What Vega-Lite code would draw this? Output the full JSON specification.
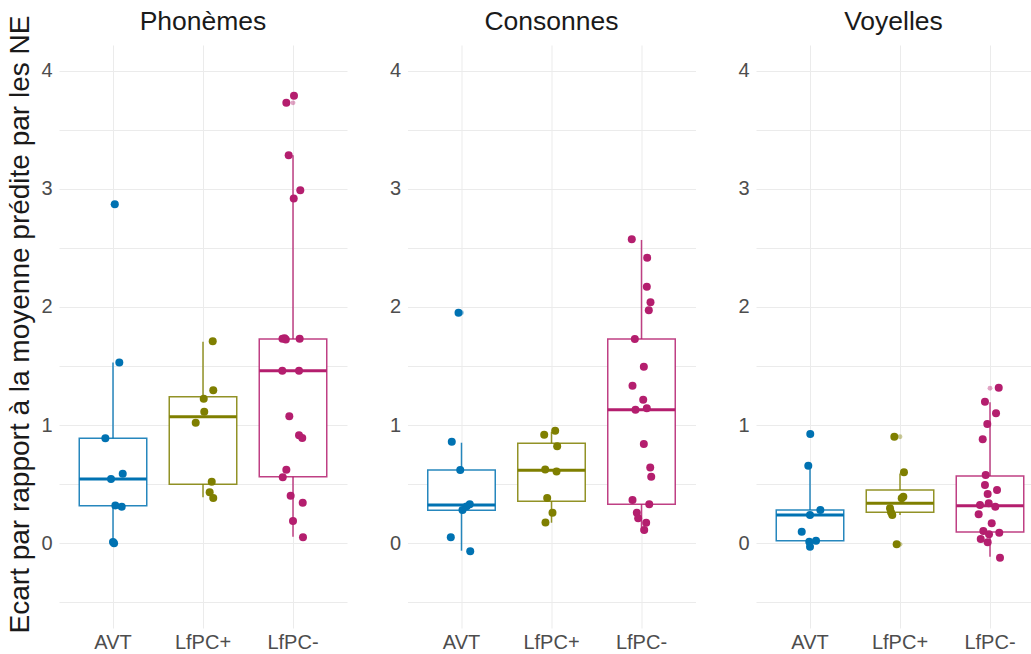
{
  "$schema": "https://vega.github.io/schema/vega-lite/v6.json",
  "padding": {"top": 8, "left": 6, "right": 0, "bottom": 0},
  "background": "white",
  "spacing": 60.5,
  "bounds": "flush",
  "config": {
    "view": {"stroke": null},
    "font": "Liberation Sans",
    "axis": {"grid": true, "gridColor": "#EBEBEB", "gridWidth": 1, "domain": false, "ticks": false, "labelFont": "Liberation Sans", "labelFontSize": 20, "labelColor": "#4D4D4D", "titleFont": "Liberation Sans", "titleFontSize": 28, "titleFontWeight": "normal", "titleColor": "#1A1A1A"},
    "title": {"font": "Liberation Sans", "fontSize": 26.5, "fontWeight": "normal", "color": "#1A1A1A", "offset": 10, "anchor": "middle"}
  },
  "resolve": {"scale": {"x": "independent", "xOffset": "independent"}},
  "datasets": {
    "points": [
      {"panel": "Phonèmes", "group": "AVT", "value": 2.87, "jit": 0.02},
      {"panel": "Phonèmes", "group": "AVT", "value": 1.53, "jit": 0.07},
      {"panel": "Phonèmes", "group": "AVT", "value": 0.887, "jit": -0.085},
      {"panel": "Phonèmes", "group": "AVT", "value": 0.587, "jit": 0.108},
      {"panel": "Phonèmes", "group": "AVT", "value": 0.542, "jit": -0.022},
      {"panel": "Phonèmes", "group": "AVT", "value": 0.319, "jit": 0.026},
      {"panel": "Phonèmes", "group": "AVT", "value": 0.308, "jit": 0.097},
      {"panel": "Phonèmes", "group": "AVT", "value": 0.008, "jit": 0.0},
      {"panel": "Phonèmes", "group": "AVT", "value": -0.002, "jit": 0.012},
      {"panel": "Phonèmes", "group": "LfPC+", "value": 1.709, "jit": 0.108},
      {"panel": "Phonèmes", "group": "LfPC+", "value": 1.294, "jit": 0.114},
      {"panel": "Phonèmes", "group": "LfPC+", "value": 1.223, "jit": 0.008},
      {"panel": "Phonèmes", "group": "LfPC+", "value": 1.113, "jit": 0.014},
      {"panel": "Phonèmes", "group": "LfPC+", "value": 1.02, "jit": -0.081},
      {"panel": "Phonèmes", "group": "LfPC+", "value": 0.52, "jit": 0.097},
      {"panel": "Phonèmes", "group": "LfPC+", "value": 0.43, "jit": 0.074},
      {"panel": "Phonèmes", "group": "LfPC+", "value": 0.381, "jit": 0.114},
      {"panel": "Phonèmes", "group": "LfPC-", "value": 3.79, "jit": 0.011},
      {"panel": "Phonèmes", "group": "LfPC-", "value": 3.73, "jit": -0.074},
      {"panel": "Phonèmes", "group": "LfPC-", "value": 3.285, "jit": -0.048},
      {"panel": "Phonèmes", "group": "LfPC-", "value": 2.99, "jit": 0.081},
      {"panel": "Phonèmes", "group": "LfPC-", "value": 2.92, "jit": 0.008},
      {"panel": "Phonèmes", "group": "LfPC-", "value": 1.73, "jit": -0.117},
      {"panel": "Phonèmes", "group": "LfPC-", "value": 1.735, "jit": -0.094},
      {"panel": "Phonèmes", "group": "LfPC-", "value": 1.725, "jit": -0.08},
      {"panel": "Phonèmes", "group": "LfPC-", "value": 1.73, "jit": 0.074},
      {"panel": "Phonèmes", "group": "LfPC-", "value": 1.46, "jit": -0.119},
      {"panel": "Phonèmes", "group": "LfPC-", "value": 1.46, "jit": 0.067},
      {"panel": "Phonèmes", "group": "LfPC-", "value": 1.074, "jit": -0.041},
      {"panel": "Phonèmes", "group": "LfPC-", "value": 0.913, "jit": 0.067},
      {"panel": "Phonèmes", "group": "LfPC-", "value": 0.89, "jit": 0.103},
      {"panel": "Phonèmes", "group": "LfPC-", "value": 0.621, "jit": -0.074},
      {"panel": "Phonèmes", "group": "LfPC-", "value": 0.557, "jit": -0.114},
      {"panel": "Phonèmes", "group": "LfPC-", "value": 0.401, "jit": -0.026},
      {"panel": "Phonèmes", "group": "LfPC-", "value": 0.342, "jit": 0.108},
      {"panel": "Phonèmes", "group": "LfPC-", "value": 0.186, "jit": 0.0},
      {"panel": "Phonèmes", "group": "LfPC-", "value": 0.048, "jit": 0.111},
      {"panel": "Consonnes", "group": "AVT", "value": 1.952, "jit": -0.033},
      {"panel": "Consonnes", "group": "AVT", "value": 0.859, "jit": -0.108},
      {"panel": "Consonnes", "group": "AVT", "value": 0.619, "jit": -0.014},
      {"panel": "Consonnes", "group": "AVT", "value": 0.328, "jit": 0.092},
      {"panel": "Consonnes", "group": "AVT", "value": 0.31, "jit": 0.056},
      {"panel": "Consonnes", "group": "AVT", "value": 0.28, "jit": 0.011},
      {"panel": "Consonnes", "group": "AVT", "value": 0.048, "jit": -0.119},
      {"panel": "Consonnes", "group": "AVT", "value": -0.07, "jit": 0.097},
      {"panel": "Consonnes", "group": "LfPC+", "value": 0.918, "jit": -0.081},
      {"panel": "Consonnes", "group": "LfPC+", "value": 0.952, "jit": 0.041},
      {"panel": "Consonnes", "group": "LfPC+", "value": 0.819, "jit": 0.063},
      {"panel": "Consonnes", "group": "LfPC+", "value": 0.624, "jit": -0.07},
      {"panel": "Consonnes", "group": "LfPC+", "value": 0.607, "jit": 0.056},
      {"panel": "Consonnes", "group": "LfPC+", "value": 0.381, "jit": -0.048},
      {"panel": "Consonnes", "group": "LfPC+", "value": 0.257, "jit": 0.011},
      {"panel": "Consonnes", "group": "LfPC+", "value": 0.175, "jit": -0.067},
      {"panel": "Consonnes", "group": "LfPC-", "value": 2.574, "jit": -0.108},
      {"panel": "Consonnes", "group": "LfPC-", "value": 2.418, "jit": 0.063},
      {"panel": "Consonnes", "group": "LfPC-", "value": 2.172, "jit": 0.059},
      {"panel": "Consonnes", "group": "LfPC-", "value": 2.04, "jit": 0.1},
      {"panel": "Consonnes", "group": "LfPC-", "value": 1.972, "jit": 0.081},
      {"panel": "Consonnes", "group": "LfPC-", "value": 1.729, "jit": -0.074},
      {"panel": "Consonnes", "group": "LfPC-", "value": 1.494, "jit": 0.026},
      {"panel": "Consonnes", "group": "LfPC-", "value": 1.333, "jit": -0.1},
      {"panel": "Consonnes", "group": "LfPC-", "value": 1.215, "jit": 0.019},
      {"panel": "Consonnes", "group": "LfPC-", "value": 1.13, "jit": -0.067},
      {"panel": "Consonnes", "group": "LfPC-", "value": 1.141, "jit": 0.059},
      {"panel": "Consonnes", "group": "LfPC-", "value": 0.839, "jit": 0.026},
      {"panel": "Consonnes", "group": "LfPC-", "value": 0.641, "jit": 0.097},
      {"panel": "Consonnes", "group": "LfPC-", "value": 0.562, "jit": 0.108},
      {"panel": "Consonnes", "group": "LfPC-", "value": 0.364, "jit": -0.1},
      {"panel": "Consonnes", "group": "LfPC-", "value": 0.328, "jit": 0.086},
      {"panel": "Consonnes", "group": "LfPC-", "value": 0.257, "jit": -0.052},
      {"panel": "Consonnes", "group": "LfPC-", "value": 0.209, "jit": -0.037},
      {"panel": "Consonnes", "group": "LfPC-", "value": 0.172, "jit": 0.052},
      {"panel": "Consonnes", "group": "LfPC-", "value": 0.11, "jit": 0.03},
      {"panel": "Voyelles", "group": "AVT", "value": 0.924, "jit": 0.003},
      {"panel": "Voyelles", "group": "AVT", "value": 0.655, "jit": -0.019},
      {"panel": "Voyelles", "group": "AVT", "value": 0.28, "jit": 0.115},
      {"panel": "Voyelles", "group": "AVT", "value": 0.237, "jit": 0.0},
      {"panel": "Voyelles", "group": "AVT", "value": 0.096, "jit": -0.092},
      {"panel": "Voyelles", "group": "AVT", "value": 0.02, "jit": 0.067},
      {"panel": "Voyelles", "group": "AVT", "value": 0.01, "jit": -0.008},
      {"panel": "Voyelles", "group": "AVT", "value": -0.031, "jit": 0.0},
      {"panel": "Voyelles", "group": "LfPC+", "value": 0.901, "jit": -0.063},
      {"panel": "Voyelles", "group": "LfPC+", "value": 0.599, "jit": 0.044},
      {"panel": "Voyelles", "group": "LfPC+", "value": 0.393, "jit": 0.037},
      {"panel": "Voyelles", "group": "LfPC+", "value": 0.38, "jit": 0.019},
      {"panel": "Voyelles", "group": "LfPC+", "value": 0.294, "jit": -0.111},
      {"panel": "Voyelles", "group": "LfPC+", "value": 0.26, "jit": -0.1},
      {"panel": "Voyelles", "group": "LfPC+", "value": 0.237, "jit": -0.086},
      {"panel": "Voyelles", "group": "LfPC+", "value": -0.011, "jit": -0.037},
      {"panel": "Voyelles", "group": "LfPC-", "value": 1.316, "jit": 0.097},
      {"panel": "Voyelles", "group": "LfPC-", "value": 1.198, "jit": -0.056},
      {"panel": "Voyelles", "group": "LfPC-", "value": 1.099, "jit": 0.067},
      {"panel": "Voyelles", "group": "LfPC-", "value": 1.008, "jit": -0.03},
      {"panel": "Voyelles", "group": "LfPC-", "value": 0.879, "jit": -0.081},
      {"panel": "Voyelles", "group": "LfPC-", "value": 0.576, "jit": -0.048},
      {"panel": "Voyelles", "group": "LfPC-", "value": 0.492, "jit": -0.056},
      {"panel": "Voyelles", "group": "LfPC-", "value": 0.449, "jit": 0.078},
      {"panel": "Voyelles", "group": "LfPC-", "value": 0.415, "jit": -0.026},
      {"panel": "Voyelles", "group": "LfPC-", "value": 0.322, "jit": -0.111},
      {"panel": "Voyelles", "group": "LfPC-", "value": 0.336, "jit": -0.014},
      {"panel": "Voyelles", "group": "LfPC-", "value": 0.308, "jit": 0.059},
      {"panel": "Voyelles", "group": "LfPC-", "value": 0.243, "jit": -0.126},
      {"panel": "Voyelles", "group": "LfPC-", "value": 0.167, "jit": 0.019},
      {"panel": "Voyelles", "group": "LfPC-", "value": 0.102, "jit": -0.074},
      {"panel": "Voyelles", "group": "LfPC-", "value": 0.087, "jit": 0.103},
      {"panel": "Voyelles", "group": "LfPC-", "value": 0.074, "jit": -0.011},
      {"panel": "Voyelles", "group": "LfPC-", "value": 0.034, "jit": -0.103},
      {"panel": "Voyelles", "group": "LfPC-", "value": 0.006, "jit": -0.026},
      {"panel": "Voyelles", "group": "LfPC-", "value": -0.125, "jit": 0.111}
    ],
    "boxes": [
      {"panel": "Phonèmes", "group": "AVT", "lower": 0.003, "q1": 0.316, "median": 0.542, "q3": 0.887, "upper": 1.53},
      {"panel": "Phonèmes", "group": "LfPC+", "lower": 0.387, "q1": 0.497, "median": 1.07, "q3": 1.24, "upper": 1.706},
      {"panel": "Phonèmes", "group": "LfPC-", "lower": 0.054, "q1": 0.562, "median": 1.46, "q3": 1.729, "upper": 3.285},
      {"panel": "Consonnes", "group": "AVT", "lower": -0.065, "q1": 0.277, "median": 0.322, "q3": 0.619, "upper": 0.85},
      {"panel": "Consonnes", "group": "LfPC+", "lower": 0.172, "q1": 0.353, "median": 0.616, "q3": 0.845, "upper": 0.943},
      {"panel": "Consonnes", "group": "LfPC-", "lower": 0.096, "q1": 0.328, "median": 1.13, "q3": 1.729, "upper": 2.568},
      {"panel": "Voyelles", "group": "AVT", "lower": -0.031, "q1": 0.02, "median": 0.237, "q3": 0.28, "upper": 0.655},
      {"panel": "Voyelles", "group": "LfPC+", "lower": 0.237, "q1": 0.26, "median": 0.336, "q3": 0.449, "upper": 0.59},
      {"panel": "Voyelles", "group": "LfPC-", "lower": -0.116, "q1": 0.093, "median": 0.316, "q3": 0.568, "upper": 1.192}
    ],
    "outliers": [
      {"panel": "Phonèmes", "group": "AVT", "value": 2.87},
      {"panel": "Phonèmes", "group": "LfPC-", "value": 3.79},
      {"panel": "Phonèmes", "group": "LfPC-", "value": 3.73},
      {"panel": "Consonnes", "group": "AVT", "value": 1.952},
      {"panel": "Voyelles", "group": "AVT", "value": 0.924},
      {"panel": "Voyelles", "group": "LfPC+", "value": 0.901},
      {"panel": "Voyelles", "group": "LfPC+", "value": -0.011},
      {"panel": "Voyelles", "group": "LfPC-", "value": 1.311}
    ]
  },
  "hconcat": [
    {
      "width": 288, "height": 583,
      "title": {"text": "Phonèmes", "offset": -20},
      "encoding": {
        "x": {"field": "group", "type": "nominal", "scale": {"type": "band", "domain": ["AVT", "LfPC+", "LfPC-"], "paddingInner": 0, "paddingOuter": 0.1}, "axis": {"title": null, "grid": true, "bandPosition": 0.5, "labelPadding": 4, "labelAngle": 0}}
      },
      "layer": [
        {"data": {"name": "boxes"}, "transform": [{"filter": {"field": "panel", "equal": "Phonèmes"}}],
         "mark": {"type": "bar", "width": 67.5, "fill": "white", "strokeWidth": 1.5, "strokeOpacity": 0.85},
         "encoding": {
           "y": {"field": "q1", "type": "quantitative", "title": "Ecart par rapport à la moyenne prédite par les NE", "scale": {"domain": [-0.72, 4.22], "nice": false, "zero": false}, "axis": {"values": [-0.5, 0, 0.5, 1, 1.5, 2, 2.5, 3, 3.5, 4], "labelExpr": "datum.value % 1 === 0 ? format(datum.value, 'd') : ''", "labelPadding": 7, "titlePadding": 6, "titleY": 279}},
           "y2": {"field": "q3"},
           "stroke": {"field": "group", "type": "nominal", "scale": {"domain": ["AVT", "LfPC+", "LfPC-"], "range": ["#0072B2", "#7F7F00", "#B41E6E"]}, "legend": null}
         }},
        {"data": {"name": "boxes"}, "transform": [{"filter": {"field": "panel", "equal": "Phonèmes"}}],
         "mark": {"type": "rule", "strokeWidth": 1.5, "strokeOpacity": 0.85},
         "encoding": {"y": {"field": "lower", "type": "quantitative", "title": "Ecart par rapport à la moyenne prédite par les NE"}, "y2": {"field": "q1"},
           "color": {"field": "group", "type": "nominal", "scale": {"domain": ["AVT", "LfPC+", "LfPC-"], "range": ["#0072B2", "#7F7F00", "#B41E6E"]}, "legend": null}}},
        {"data": {"name": "boxes"}, "transform": [{"filter": {"field": "panel", "equal": "Phonèmes"}}],
         "mark": {"type": "rule", "strokeWidth": 1.5, "strokeOpacity": 0.85},
         "encoding": {"y": {"field": "q3", "type": "quantitative", "title": "Ecart par rapport à la moyenne prédite par les NE"}, "y2": {"field": "upper"},
           "color": {"field": "group", "type": "nominal", "legend": null}}},
        {"data": {"name": "boxes"}, "transform": [{"filter": {"field": "panel", "equal": "Phonèmes"}}],
         "mark": {"type": "tick", "thickness": 3, "size": 67.5, "opacity": 1},
         "encoding": {"y": {"field": "median", "type": "quantitative", "title": "Ecart par rapport à la moyenne prédite par les NE"},
           "color": {"field": "group", "type": "nominal", "legend": null}}},
        {"data": {"name": "outliers"}, "transform": [{"filter": {"field": "panel", "equal": "Phonèmes"}}],
         "mark": {"type": "point", "filled": true, "size": 24, "opacity": 0.4},
         "encoding": {"y": {"field": "value", "type": "quantitative", "title": "Ecart par rapport à la moyenne prédite par les NE"},
           "color": {"field": "group", "type": "nominal", "legend": null}}},
        {"data": {"name": "points"}, "transform": [{"filter": {"field": "panel", "equal": "Phonèmes"}}],
         "mark": {"type": "point", "filled": true, "size": 64, "opacity": 1},
         "encoding": {"y": {"field": "value", "type": "quantitative", "title": "Ecart par rapport à la moyenne prédite par les NE"},
           "xOffset": {"field": "jit", "type": "quantitative", "scale": {"domain": [-0.5, 0.5], "nice": false, "zero": false}},
           "color": {"field": "group", "type": "nominal", "legend": null}}}
      ]
    },
    {
      "width": 288, "height": 583,
      "title": {"text": "Consonnes"},
      "encoding": {
        "x": {"field": "group", "type": "nominal", "scale": {"type": "band", "domain": ["AVT", "LfPC+", "LfPC-"], "paddingInner": 0, "paddingOuter": 0.1}, "axis": {"title": null, "grid": true, "bandPosition": 0.5, "labelPadding": 4, "labelAngle": 0}}
      },
      "layer": [
        {"data": {"name": "boxes"}, "transform": [{"filter": {"field": "panel", "equal": "Consonnes"}}],
         "mark": {"type": "bar", "width": 67.5, "fill": "white", "strokeWidth": 1.5, "strokeOpacity": 0.85},
         "encoding": {
           "y": {"field": "q1", "type": "quantitative", "title": null, "scale": {"domain": [-0.72, 4.22], "nice": false, "zero": false}, "axis": {"values": [-0.5, 0, 0.5, 1, 1.5, 2, 2.5, 3, 3.5, 4], "labelExpr": "datum.value % 1 === 0 ? format(datum.value, 'd') : ''", "labelPadding": 7}},
           "y2": {"field": "q3"},
           "stroke": {"field": "group", "type": "nominal", "scale": {"domain": ["AVT", "LfPC+", "LfPC-"], "range": ["#0072B2", "#7F7F00", "#B41E6E"]}, "legend": null}
         }},
        {"data": {"name": "boxes"}, "transform": [{"filter": {"field": "panel", "equal": "Consonnes"}}],
         "mark": {"type": "rule", "strokeWidth": 1.5, "strokeOpacity": 0.85},
         "encoding": {"y": {"field": "lower", "type": "quantitative", "title": null}, "y2": {"field": "q1"},
           "color": {"field": "group", "type": "nominal", "scale": {"domain": ["AVT", "LfPC+", "LfPC-"], "range": ["#0072B2", "#7F7F00", "#B41E6E"]}, "legend": null}}},
        {"data": {"name": "boxes"}, "transform": [{"filter": {"field": "panel", "equal": "Consonnes"}}],
         "mark": {"type": "rule", "strokeWidth": 1.5, "strokeOpacity": 0.85},
         "encoding": {"y": {"field": "q3", "type": "quantitative", "title": null}, "y2": {"field": "upper"},
           "color": {"field": "group", "type": "nominal", "legend": null}}},
        {"data": {"name": "boxes"}, "transform": [{"filter": {"field": "panel", "equal": "Consonnes"}}],
         "mark": {"type": "tick", "thickness": 3, "size": 67.5, "opacity": 1},
         "encoding": {"y": {"field": "median", "type": "quantitative", "title": null},
           "color": {"field": "group", "type": "nominal", "legend": null}}},
        {"data": {"name": "outliers"}, "transform": [{"filter": {"field": "panel", "equal": "Consonnes"}}],
         "mark": {"type": "point", "filled": true, "size": 24, "opacity": 0.4},
         "encoding": {"y": {"field": "value", "type": "quantitative", "title": null},
           "color": {"field": "group", "type": "nominal", "legend": null}}},
        {"data": {"name": "points"}, "transform": [{"filter": {"field": "panel", "equal": "Consonnes"}}],
         "mark": {"type": "point", "filled": true, "size": 64, "opacity": 1},
         "encoding": {"y": {"field": "value", "type": "quantitative", "title": null},
           "xOffset": {"field": "jit", "type": "quantitative", "scale": {"domain": [-0.5, 0.5], "nice": false, "zero": false}},
           "color": {"field": "group", "type": "nominal", "legend": null}}}
      ]
    },
    {
      "width": 275, "height": 583,
      "title": {"text": "Voyelles"},
      "encoding": {
        "x": {"field": "group", "type": "nominal", "scale": {"type": "band", "domain": ["AVT", "LfPC+", "LfPC-"], "paddingInner": 0, "paddingOuter": 0.1, "range": [0, 288]}, "axis": {"title": null, "grid": true, "bandPosition": 0.5, "labelPadding": 4, "labelAngle": 0}}
      },
      "layer": [
        {"data": {"name": "boxes"}, "transform": [{"filter": {"field": "panel", "equal": "Voyelles"}}],
         "mark": {"type": "bar", "width": 67.5, "fill": "white", "strokeWidth": 1.5, "strokeOpacity": 0.85},
         "encoding": {
           "y": {"field": "q1", "type": "quantitative", "title": null, "scale": {"domain": [-0.72, 4.22], "nice": false, "zero": false}, "axis": {"values": [-0.5, 0, 0.5, 1, 1.5, 2, 2.5, 3, 3.5, 4], "labelExpr": "datum.value % 1 === 0 ? format(datum.value, 'd') : ''", "labelPadding": 7}},
           "y2": {"field": "q3"},
           "stroke": {"field": "group", "type": "nominal", "scale": {"domain": ["AVT", "LfPC+", "LfPC-"], "range": ["#0072B2", "#7F7F00", "#B41E6E"]}, "legend": null}
         }},
        {"data": {"name": "boxes"}, "transform": [{"filter": {"field": "panel", "equal": "Voyelles"}}],
         "mark": {"type": "rule", "strokeWidth": 1.5, "strokeOpacity": 0.85},
         "encoding": {"y": {"field": "lower", "type": "quantitative", "title": null}, "y2": {"field": "q1"},
           "color": {"field": "group", "type": "nominal", "scale": {"domain": ["AVT", "LfPC+", "LfPC-"], "range": ["#0072B2", "#7F7F00", "#B41E6E"]}, "legend": null}}},
        {"data": {"name": "boxes"}, "transform": [{"filter": {"field": "panel", "equal": "Voyelles"}}],
         "mark": {"type": "rule", "strokeWidth": 1.5, "strokeOpacity": 0.85},
         "encoding": {"y": {"field": "q3", "type": "quantitative", "title": null}, "y2": {"field": "upper"},
           "color": {"field": "group", "type": "nominal", "legend": null}}},
        {"data": {"name": "boxes"}, "transform": [{"filter": {"field": "panel", "equal": "Voyelles"}}],
         "mark": {"type": "tick", "thickness": 3, "size": 67.5, "opacity": 1},
         "encoding": {"y": {"field": "median", "type": "quantitative", "title": null},
           "color": {"field": "group", "type": "nominal", "legend": null}}},
        {"data": {"name": "outliers"}, "transform": [{"filter": {"field": "panel", "equal": "Voyelles"}}],
         "mark": {"type": "point", "filled": true, "size": 24, "opacity": 0.4},
         "encoding": {"y": {"field": "value", "type": "quantitative", "title": null},
           "color": {"field": "group", "type": "nominal", "legend": null}}},
        {"data": {"name": "points"}, "transform": [{"filter": {"field": "panel", "equal": "Voyelles"}}],
         "mark": {"type": "point", "filled": true, "size": 64, "opacity": 1},
         "encoding": {"y": {"field": "value", "type": "quantitative", "title": null},
           "xOffset": {"field": "jit", "type": "quantitative", "scale": {"domain": [-0.5, 0.5], "nice": false, "zero": false}},
           "color": {"field": "group", "type": "nominal", "legend": null}}}
      ]
    }
  ]
}
